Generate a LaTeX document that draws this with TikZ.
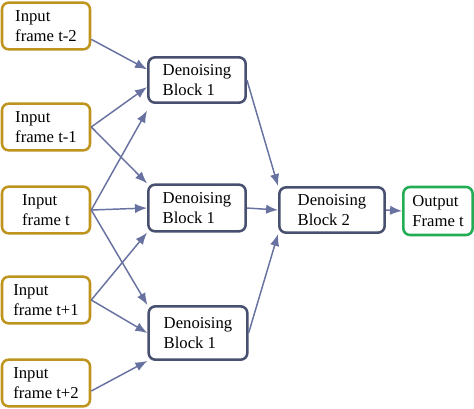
\documentclass[tikz,border=0pt]{standalone}
\usepackage{fontspec}
\setmainfont{Liberation Serif}
\usetikzlibrary{arrows.meta}
\definecolor{ingold}{RGB}{190,148,30}
\definecolor{blkblue}{RGB}{72,80,112}
\definecolor{arrblue}{RGB}{104,114,160}
\definecolor{outgreen}{RGB}{34,172,84}
\tikzset{
	box/.style={draw,rounded corners=5pt,line width=1.9pt,align=left,font=\fontsize{12.5}{14.5}\selectfont,inner sep=2pt},
	inbox/.style={box,draw=ingold,minimum width=66pt,minimum height=35pt},
	denbox/.style={box,draw=blkblue},
	outbox/.style={box,draw=outgreen,minimum width=52pt,minimum height=36pt},
	flow/.style={draw=arrblue,line width=1.1pt,-{Latex[length=9pt,width=7pt]}}
}
\begin{document}
\begin{tikzpicture}[x=0.75pt,y=-0.75pt]
		\useasboundingbox (0,0) rectangle (474,408);
		\coordinate (I2) at (46,26);
		\coordinate (I1) at (46,127);
		\coordinate (I0) at (46,210);
		\coordinate (J1) at (46,300);
		\coordinate (J2) at (46,383);
		\node[inbox] (in2) at (I2) {Input\\frame t-2};
		\node[inbox] (in1) at (I1) {Input\\frame t-1};
		\node[inbox] (in0) at (I0) {Input\\frame t};
		\node[inbox] (ip1) at (J1) {Input\\frame t+1};
		\node[inbox] (ip2) at (J2) {Input\\frame t+2};
		\node[denbox,minimum width=73pt,minimum height=34pt] (dtop) at (197,80) {Denoising\\Block 1};
		\node[denbox,minimum width=73pt,minimum height=35pt] (dmid) at (197,208) {Denoising\\Block 1};
		\node[denbox,minimum width=74pt,minimum height=40pt] (dbot) at (198,333) {Denoising\\Block 1};
		\node[denbox,minimum width=79pt,minimum height=34pt] (dtwo) at (332,210) {Denoising\\Block 2};
		\node[outbox] (out) at (438,211) {Output\\Frame t};
		% inputs into the first blocks
		\draw[flow] ([yshift=-10pt]in2.east) to (dtop.168);
		\draw[flow] (in1.east) to (dtop.188);
		\draw[flow] (in1.east) to (dmid.north west);
		\draw[flow] (in0.east) to ([yshift=-5pt]dtop.south west);
		\draw[flow] (in0.east) to (dmid.west);
		\draw[flow] (in0.east) to (dbot.north west);
		\draw[flow] (ip1.east) to (dmid.south west);
		\draw[flow] (ip1.east) to (dbot.west);
		\draw[flow] ([yshift=-6pt]ip2.east) to (dbot.south west);
		% second stage
		\draw[flow] (dtop.east) to (dtwo.north west);
		\draw[flow] (dmid.east) to (dtwo.west);
		\draw[flow] (dbot.east) to (dtwo.south west);
		\draw[flow] (dtwo.east) to (out.west);
	\end{tikzpicture}
\end{document}
